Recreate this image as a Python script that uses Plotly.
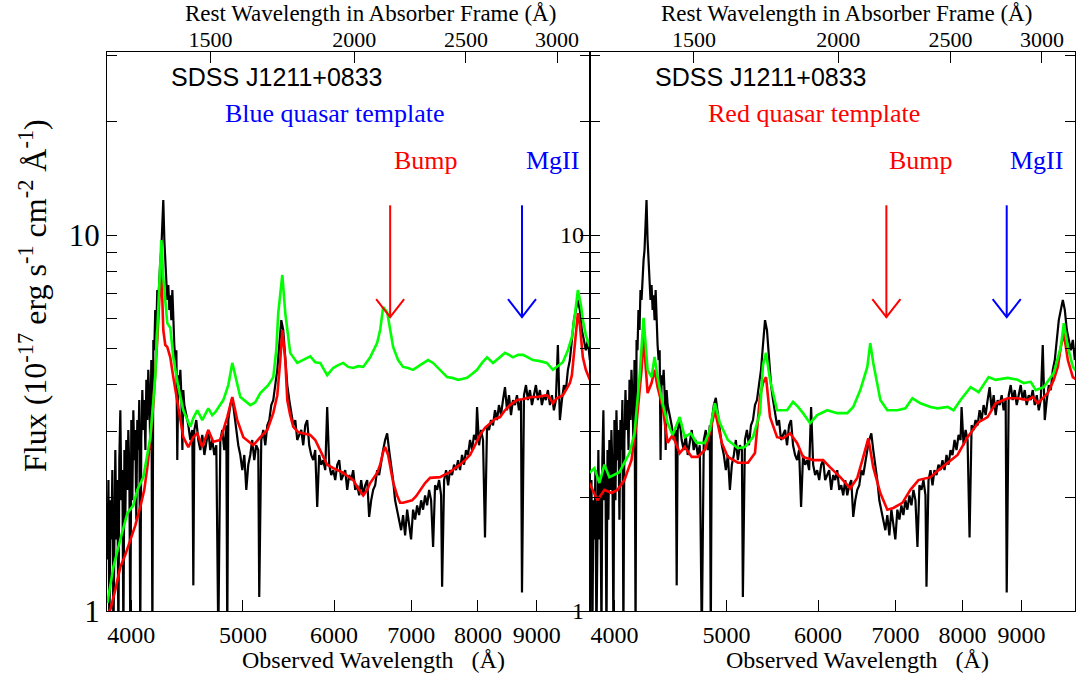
import math
import plotly.graph_objects as go

# ---------------- data ----------------
ONE_PLUS_Z = 3.124  # absorber frame: observed = rest * (1+z)

obs_wave = [
    3813, 3821, 3828, 3836, 3844, 3851, 3859, 3867, 3874, 3882,
    3890, 3898, 3905, 3913, 3921, 3929, 3937, 3945, 3952, 3960,
    3968, 3976, 3984, 3992, 4000, 4008, 4016, 4024, 4032, 4040,
    4048, 4056, 4064, 4072, 4080, 4089, 4097, 4105, 4114, 4122,
    4130, 4138, 4147, 4155, 4163, 4172, 4180, 4188, 4196, 4205,
    4213, 4222, 4230, 4239, 4247, 4256, 4264, 4273, 4281, 4290,
    4298, 4307, 4316, 4324, 4333, 4342, 4350, 4359, 4368, 4377,
    4385, 4394, 4403, 4412, 4421, 4430, 4438, 4447, 4465, 4483,
    4501, 4519, 4528, 4537, 4555, 4573, 4592, 4610, 4629, 4647,
    4666, 4684, 4703, 4722, 4741, 4760, 4779, 4798, 4817, 4837,
    4846, 4856, 4876, 4895, 4915, 4935, 4954, 4974, 4994, 5014,
    5034, 5054, 5074, 5094, 5115, 5135, 5156, 5166, 5187, 5208,
    5229, 5250, 5271, 5292, 5313, 5334, 5356, 5377, 5399, 5420,
    5442, 5464, 5486, 5508, 5530, 5552, 5574, 5596, 5619, 5641,
    5664, 5686, 5709, 5732, 5755, 5778, 5801, 5824, 5848, 5871,
    5895, 5918, 5942, 5966, 5990, 6014, 6038, 6062, 6086, 6111,
    6135, 6160, 6184, 6209, 6234, 6259, 6284, 6309, 6334, 6360,
    6385, 6411, 6436, 6462, 6488, 6514, 6540, 6566, 6592, 6619,
    6645, 6672, 6698, 6725, 6752, 6779, 6806, 6834, 6861, 6888,
    6916, 6944, 6971, 6999, 7027, 7056, 7084, 7112, 7141, 7169,
    7198, 7227, 7256, 7285, 7314, 7343, 7373, 7402, 7432, 7447,
    7477, 7507, 7537, 7566, 7597, 7627, 7658, 7688, 7719, 7750,
    7781, 7812, 7843, 7875, 7906, 7938, 7970, 7986, 8018, 8050,
    8082, 8114, 8147, 8179, 8212, 8245, 8278, 8311, 8344, 8378,
    8411, 8445, 8479, 8513, 8547, 8581, 8615, 8650, 8684, 8719,
    8737, 8772, 8807, 8842, 8877, 8913, 8948, 8984, 9020, 9056,
    9092, 9129, 9165, 9202, 9239, 9276, 9313, 9350, 9387, 9425,
    9463, 9501, 9539, 9577, 9615, 9654, 9692, 9731, 9770, 9809,
    9848, 9888, 9927, 9967, 10007,
]
obs_flux = [
    1.37, 2.23, 0.84, 1.97, 1.55, 2.37, 0.84, 1.75, 2.68, 1.55,
    2.23, 0.84, 2.52, 3.42, 1.97, 2.37, 0.84, 2.68, 1.75, 2.85,
    2.10, 3.03, 2.37, 0.84, 3.22, 1.97, 3.42, 2.52, 3.03, 1.75,
    3.22, 2.68, 3.64, 0.84, 2.85, 3.87, 3.03, 3.64, 2.68, 4.12,
    3.22, 4.38, 3.64, 2.68, 4.65, 0.84, 5.26, 4.94, 6.32, 5.59,
    7.14, 6.72, 8.07, 8.58, 9.12, 10.3, 12.4, 9.70, 8.32, 7.59,
    6.72, 7.36, 6.32, 6.92, 5.94, 7.14, 5.59, 5.10, 4.65, 4.94,
    2.52, 4.24, 3.99, 4.38, 3.75, 2.68, 3.87, 3.53, 3.32, 3.12,
    2.85, 3.03, 1.17, 3.03, 3.22, 2.85, 2.68, 2.94, 2.60, 2.85,
    3.03, 2.68, 2.85, 2.60, 2.76, 0.84, 2.85, 3.03, 2.68, 3.12,
    0.84, 3.22, 3.53, 3.69, 3.32, 3.03, 2.76, 2.60, 2.37, 2.60,
    2.10, 2.45, 2.60, 2.85, 2.52, 2.76, 2.68, 1.09, 2.85, 3.03,
    2.76, 3.12, 3.22, 3.53, 3.64, 3.99, 4.38, 5.10, 5.94, 5.59,
    4.80, 3.99, 3.64, 3.32, 3.12, 3.22, 2.85, 2.94, 3.03, 2.76,
    3.12, 3.22, 2.76, 2.60, 2.52, 2.68, 1.89, 2.60, 2.45, 2.52,
    2.37, 3.49, 2.45, 2.30, 2.37, 2.23, 2.45, 2.52, 2.23, 2.30,
    2.37, 2.10, 2.30, 2.23, 2.37, 2.10, 2.16, 2.03, 2.23, 2.03,
    2.16, 2.23, 1.78, 1.97, 2.10, 2.16, 2.37, 2.30, 2.52, 2.68,
    2.85, 2.97, 2.68, 2.45, 2.23, 1.97, 1.86, 1.75, 1.64, 1.80,
    1.59, 1.86, 1.69, 1.55, 1.86, 1.75, 1.91, 1.80, 1.97, 1.86,
    2.03, 1.91, 2.10, 1.97, 1.48, 2.16, 2.10, 2.23, 2.03, 1.16,
    2.23, 2.37, 2.16, 2.37, 2.30, 2.45, 2.37, 2.52, 2.37, 2.60,
    2.45, 2.68, 2.60, 2.85, 2.68, 2.94, 2.85, 3.49, 2.76, 3.03,
    2.85, 1.57, 3.12, 3.03, 3.22, 3.12, 3.42, 3.22, 3.53, 3.32,
    3.64, 3.94, 3.42, 3.75, 3.32, 3.64, 3.53, 3.75, 3.42, 3.64,
    1.12, 3.75, 3.99, 3.64, 3.87, 3.53, 3.75, 3.99, 3.64, 3.87,
    3.53, 3.75, 3.64, 3.87, 3.53, 3.75, 3.42, 3.64, 5.10, 3.22,
    3.64, 3.99, 3.87, 4.38, 4.65, 5.26, 5.94, 6.32, 6.72, 6.32,
    5.59, 5.26, 4.94, 5.26, 4.65,
]

# left panel: unreddened blue quasar template (green) and reddened fit (red)
blue_tpl_wave = [
    3813, 3859, 3913, 3968, 4016, 4048, 4097, 4155, 4196, 4222,
    4247, 4264, 4298, 4324, 4350, 4394, 4438, 4501, 4528, 4564,
    4610, 4647, 4666, 4703, 4731, 4808, 4856, 4895, 4935, 4974,
    5074, 5125, 5177, 5260, 5313, 5345, 5366, 5410, 5442, 5475,
    5496, 5574, 5641, 5720, 5778, 5836, 5918, 5990, 6050, 6111,
    6172, 6234, 6296, 6360, 6449, 6540, 6579, 6619, 6672, 6712,
    6752, 6820, 6888, 6958, 7027, 7126, 7241, 7314, 7373, 7522,
    7597, 7688, 7750, 7828, 7906, 7986, 8066, 8147, 8245, 8344,
    8445, 8513, 8581, 8667, 8754, 8842, 8930, 9056, 9183, 9294,
    9387, 9482, 9577, 9654, 9711, 9770, 9829, 9868, 9927, 10007,
]
blue_tpl_flux = [
    1.05, 1.31, 1.55, 1.82, 1.91, 2.10, 2.27, 2.90, 4.19, 6.43,
    9.70, 7.72, 5.83, 5.67, 4.73, 3.94, 3.42, 3.09, 3.26, 3.42,
    3.22, 3.38, 3.46, 3.32, 3.38, 3.64, 3.99, 4.57, 4.12, 3.71,
    3.53, 3.59, 3.80, 3.99, 4.19, 4.94, 6.20, 7.83, 6.20, 5.26,
    4.86, 4.57, 4.65, 4.76, 4.59, 4.57, 4.24, 4.43, 4.51, 4.57,
    4.46, 4.43, 4.48, 4.46, 4.73, 5.17, 5.59, 6.43, 6.24, 5.59,
    5.04, 4.65, 4.46, 4.43, 4.38, 4.51, 4.65, 4.57, 4.46, 4.19,
    4.17, 4.12, 4.14, 4.17, 4.27, 4.38, 4.57, 4.73, 4.57, 4.70,
    4.86, 4.80, 4.73, 4.80, 4.80, 4.73, 4.65, 4.62, 4.57, 4.38,
    4.48, 4.59, 4.94, 5.35, 6.12, 7.14, 6.52, 5.94, 5.42, 5.04,
]
blue_fit_wave = [
    3813, 3836, 3874, 3913, 3952, 3992, 4032, 4072, 4105, 4130,
    4155, 4180, 4196, 4213, 4230, 4247, 4264, 4281, 4298, 4324,
    4350, 4394, 4438, 4483, 4528, 4564, 4610, 4666, 4712, 4779,
    4846, 4895, 4944, 5004, 5074, 5105, 5177, 5250, 5313, 5356,
    5388, 5410, 5442, 5464, 5496, 5530, 5585, 5641, 5720, 5778,
    5836, 5918, 5990, 6050, 6111, 6172, 6234, 6296, 6360, 6411,
    6449, 6540, 6579, 6619, 6645, 6685, 6712, 6752, 6806, 6847,
    6888, 6944, 7013, 7070, 7126, 7198, 7270, 7343, 7417, 7492,
    7566, 7642, 7719, 7797, 7875, 7954, 8033, 8114, 8196, 8278,
    8361, 8445, 8529, 8598, 8650, 8737, 8825, 8913, 9002, 9092,
    9183, 9239, 9294, 9369, 9482, 9558, 9615, 9654, 9692, 9731,
    9770, 9809, 9868, 9927, 10007,
]
blue_fit_flux = [
    0.98, 1.01, 1.14, 1.31, 1.41, 1.55, 1.69, 1.89, 2.10, 2.41,
    2.85, 3.57, 4.24, 5.26, 6.72, 8.23, 5.59, 5.10, 5.04, 4.73,
    4.19, 3.49, 2.90, 2.73, 2.90, 2.97, 2.73, 3.03, 2.82, 2.85,
    3.28, 3.71, 3.22, 2.90, 2.80, 2.76, 2.90, 3.03, 3.36, 3.75,
    4.65, 5.59, 4.65, 3.64, 3.32, 3.09, 2.99, 2.97, 2.94, 2.85,
    2.68, 2.45, 2.40, 2.37, 2.33, 2.28, 2.23, 2.12, 2.03, 2.10,
    2.19, 2.33, 2.45, 2.65, 2.73, 2.60, 2.41, 2.20, 2.03, 1.94,
    1.94, 1.95, 1.97, 2.02, 2.10, 2.19, 2.26, 2.27, 2.27, 2.31,
    2.34, 2.40, 2.45, 2.52, 2.60, 2.76, 2.94, 3.07, 3.16, 3.24,
    3.28, 3.42, 3.53, 3.59, 3.64, 3.66, 3.68, 3.71, 3.71, 3.73,
    3.75, 3.68, 3.57, 3.68, 3.75, 3.91, 4.04, 4.24, 4.80, 5.59,
    6.20, 5.77, 4.73, 4.38, 4.12,
]

# right panel: red quasar template (green) and reddened fit (red)
red_tpl_wave = [
    3805, 3844, 3882, 3921, 3960, 4000, 4040, 4080, 4122, 4163,
    4205, 4239, 4273, 4307, 4333, 4359, 4403, 4447, 4492, 4555,
    4601, 4657, 4712, 4789, 4837, 4886, 4935, 5014, 5115, 5187,
    5271, 5345, 5377, 5410, 5453, 5530, 5641, 5709, 5766, 5824,
    5906, 5990, 6111, 6234, 6360, 6436, 6527, 6619, 6658, 6698,
    6793, 6888, 7027, 7141, 7241, 7358, 7507, 7612, 7766, 7859,
    7970, 8131, 8262, 8428, 8547, 8754, 8930, 9038, 9165, 9257,
    9406, 9596, 9731, 9790, 9868, 9967, 10047,
]
red_tpl_flux = [
    2.33, 2.40, 2.19, 2.45, 2.27, 2.30, 2.34, 2.48, 2.63, 2.97,
    4.19, 6.02, 4.38, 4.19, 4.74, 4.19, 3.57, 3.16, 2.94, 3.28,
    2.90, 2.97, 2.80, 2.80, 3.03, 3.57, 3.16, 2.85, 2.71, 2.73,
    2.90, 3.36, 4.51, 4.86, 4.12, 3.42, 3.42, 3.60, 3.49, 3.36,
    3.16, 3.32, 3.42, 3.36, 3.36, 3.49, 3.87, 4.46, 5.16, 4.57,
    3.64, 3.42, 3.42, 3.46, 3.68, 3.57, 3.49, 3.46, 3.49, 3.42,
    3.64, 3.94, 3.82, 4.19, 4.12, 4.17, 4.12, 4.04, 4.07, 3.87,
    3.94, 4.30, 5.04, 5.83, 5.04, 4.46, 4.32,
]
red_fit_wave = [
    3805, 3867, 3921, 3976, 4024, 4080, 4138, 4180, 4222, 4239,
    4273, 4307, 4333, 4359, 4403, 4447, 4492, 4555, 4601, 4666,
    4722, 4789, 4837, 4886, 4954, 5014, 5115, 5219, 5292, 5345,
    5377, 5410, 5453, 5530, 5596, 5675, 5755, 5824, 5942, 6062,
    6147, 6272, 6398, 6488, 6566, 6632, 6698, 6793, 6888, 6971,
    7098, 7212, 7329, 7507, 7627, 7766, 7922, 8082, 8262, 8411,
    8547, 8754, 8930, 9110, 9202, 9294, 9482, 9596, 9673, 9731,
    9790, 9868, 9967, 10047,
]
red_fit_flux = [
    2.19, 1.97, 2.10, 2.06, 2.10, 2.23, 2.52, 3.16, 4.38, 5.36,
    3.80, 4.04, 4.38, 3.94, 3.49, 2.80, 2.94, 2.63, 2.73, 2.57,
    2.57, 2.68, 2.97, 3.42, 2.80, 2.57, 2.48, 2.48, 2.63, 3.71,
    4.04, 4.19, 3.28, 2.90, 2.88, 2.97, 2.80, 2.57, 2.52, 2.52,
    2.41, 2.27, 2.12, 2.26, 2.57, 2.88, 2.41, 2.06, 1.86, 1.88,
    1.94, 2.10, 2.23, 2.27, 2.37, 2.48, 2.60, 2.90, 3.18, 3.28,
    3.57, 3.68, 3.68, 3.64, 3.71, 3.57, 3.80, 4.12, 4.46, 5.04,
    5.48, 4.65, 4.19, 4.12,
]

# arrow markers (observed wavelength) and their vertical extent (flux)
bump_arrow_wave = [6712, 6875]   # left panel, right panel
mgii_arrow_wave = [8737, 8737]
arrow_top_flux = 12.0
arrow_tip_flux = 6.05

x_tick_vals = [4000, 5000, 6000, 7000, 8000, 9000]
x_tick_text = ["4000", "5000", "6000", "7000", "8000", "9000"]
rest_tick_vals = [1500, 2000, 2500, 3000]
rest_tick_text = ["1500", "2000", "2500", "3000"]
y_tick_vals = [1, 10]
y_tick_text = ["1", "10"]
y_minor_vals = [2, 3, 4, 5, 6, 7, 8, 9, 20, 30]

OBS_RANGE = [3810, 10010]
Y_RANGE_LOG = [0.0, 1.487]

# ---------------- figure ----------------
W, H = 1084, 673
ML, MR, MT, MB = 107, 9, 52, 62
PW, PH = W - ML - MR, H - MT - MB
SPLIT = 483 / PW

SERIF = "Liberation Serif"
SANS = "Liberation Sans"


def px(xp, yp):
    return (xp - ML) / PW, (H - MB - yp) / PH


fig = go.Figure()

panels = [
    dict(xa="x", ya="y", xt="x3", tpl=(blue_tpl_wave, blue_tpl_flux),
         fit=(blue_fit_wave, blue_fit_flux), idx=0),
    dict(xa="x2", ya="y2", xt="x4", tpl=(red_tpl_wave, red_tpl_flux),
         fit=(red_fit_wave, red_fit_flux), idx=1),
]

HEAD_HALF = 10 ** (14 / 1152)          # 14 px half width of the V head
HEAD_FLUX = 10 ** ((611 - 299) / 376)  # flux level of the V arms' ends

for p in panels:
    common = dict(xaxis=p["xa"], yaxis=p["ya"], mode="lines",
                  showlegend=False, hoverinfo="skip")
    fig.add_trace(go.Scatter(x=obs_wave, y=obs_flux,
                             line=dict(color="black", width=2.2), **common))
    fig.add_trace(go.Scatter(x=p["fit"][0], y=p["fit"][1],
                             line=dict(color="#ff0000", width=2.6), **common))
    fig.add_trace(go.Scatter(x=p["tpl"][0], y=p["tpl"][1],
                             line=dict(color="#00ff00", width=2.6), **common))
    for wl, col in ((bump_arrow_wave[p["idx"]], "#ff0000"),
                    (mgii_arrow_wave[p["idx"]], "#0000ff")):
        fig.add_trace(go.Scatter(
            x=[wl, wl, None, wl / HEAD_HALF, wl, wl * HEAD_HALF],
            y=[arrow_top_flux, arrow_tip_flux, None, HEAD_FLUX, arrow_tip_flux, HEAD_FLUX],
            line=dict(color=col, width=2), **common))
    # invisible trace so the top (rest-frame) axis is drawn
    fig.add_trace(go.Scatter(x=[2000], y=[5], xaxis=p["xt"], yaxis=p["ya"],
                             mode="markers", marker=dict(opacity=0),
                             showlegend=False, hoverinfo="skip"))

x_common = dict(
    type="log", range=[math.log10(OBS_RANGE[0]), math.log10(OBS_RANGE[1])],
    tickmode="array", tickvals=x_tick_vals, ticktext=x_tick_text,
    ticks="inside", ticklen=11, tickwidth=1, tickcolor="black",
    showline=True, linecolor="black", linewidth=1.2, mirror=True,
    showgrid=False, zeroline=False, ticklabelstandoff=2,
    tickfont=dict(family=SERIF, size=24, color="black"),
)
top_common = dict(
    type="log",
    range=[math.log10(OBS_RANGE[0] / ONE_PLUS_Z), math.log10(OBS_RANGE[1] / ONE_PLUS_Z)],
    tickmode="array", tickvals=rest_tick_vals, ticktext=rest_tick_text,
    ticks="inside", ticklen=11, tickwidth=1, tickcolor="black",
    showline=False, showgrid=False, zeroline=False, side="top",
    ticklabelstandoff=0,
    tickfont=dict(family=SERIF, size=22, color="black"),
)
y_common = dict(
    type="log", range=Y_RANGE_LOG, domain=[0, 1],
    tickmode="array", tickvals=y_tick_vals, ticktext=y_tick_text,
    ticks="inside", ticklen=10, tickwidth=1, tickcolor="black",
    minor=dict(tickmode="array", tickvals=y_minor_vals, ticks="inside",
               ticklen=5, tickcolor="black", showgrid=False),
    showline=True, linecolor="black", linewidth=1.2, mirror="allticks",
    showgrid=False, zeroline=False,
)

fig.update_layout(
    width=W, height=H,
    margin=dict(l=ML, r=MR, t=MT, b=MB, pad=0),
    paper_bgcolor="white", plot_bgcolor="white",
    showlegend=False,
    xaxis=dict(domain=[0, SPLIT], anchor="y", **x_common),
    xaxis2=dict(domain=[SPLIT, 1], anchor="y2", **x_common),
    xaxis3=dict(overlaying="x", anchor="y", **top_common),
    xaxis4=dict(overlaying="x2", anchor="y2", **top_common),
    yaxis=dict(anchor="x", tickfont=dict(family=SERIF, size=31, color="black"), **y_common),
    yaxis2=dict(anchor="x2", tickfont=dict(family=SERIF, size=24, color="black"), **y_common),
)

annotations = []


def add_text(text, xp, yp, size, color="black", family=SERIF, angle=0):
    ax, ay = px(xp, yp)
    annotations.append(dict(
        text=text, x=ax, y=ay, xref="paper", yref="paper",
        xanchor="center", yanchor="middle", showarrow=False, textangle=angle,
        font=dict(family=family, size=size, color=color)))


for off in (0, 484):
    add_text("Rest Wavelength in Absorber Frame (Å)", 370 + off * 0.985, 13, 23)
    add_text("Observed Wavelength   (Å)", 373 + off, 660, 24)
    add_text("SDSS J1211+0833", 277 + off, 77, 25, family=SANS)
    add_text("Bump", 426 + off * 1.023, 161, 26, color="#ff0000")
    add_text("MgII", 552 + off, 161, 26, color="#0000ff")

add_text("Blue quasar template", 334, 114, 26, color="#0000ff")
add_text("Red quasar template", 814, 114, 26, color="#ff0000")
add_text("Flux (10<sup>-17</sup> erg s<sup>-1</sup> cm<sup>-2</sup> Å<sup>-1</sup>)",
         33, 296, 32, angle=-90)

fig.update_layout(annotations=annotations)

fig.write_html(
    "out.html",
    config={"displayModeBar": False},
    post_script="document.body.style.margin='0';document.body.style.padding='0';",
)
